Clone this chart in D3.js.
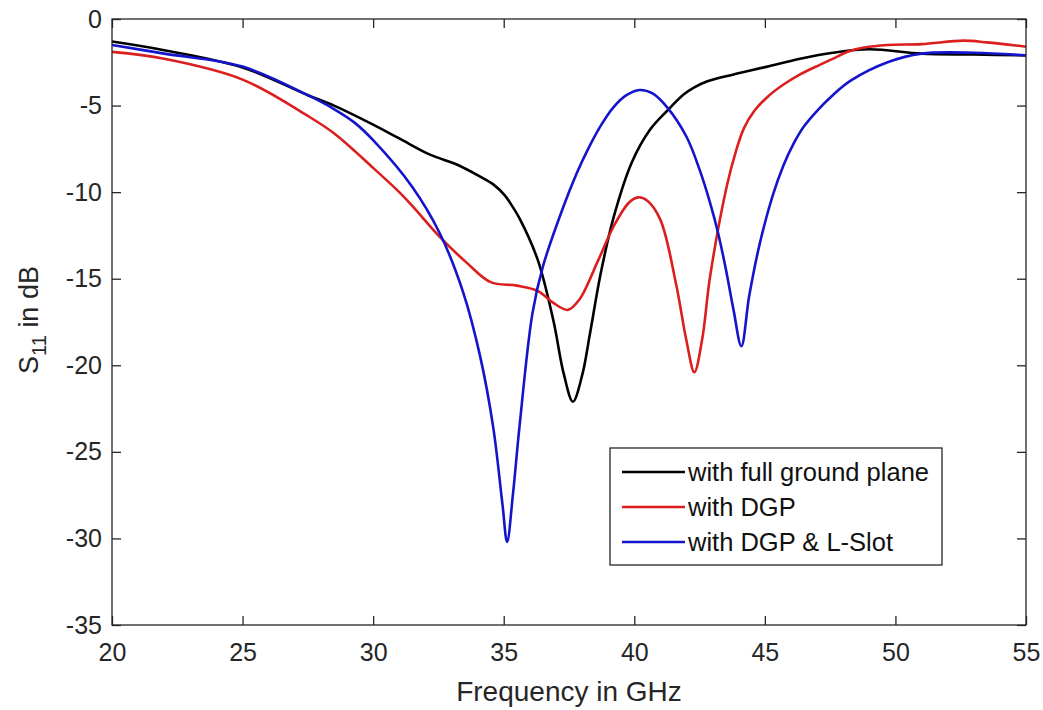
<!DOCTYPE html>
<html>
<head>
<meta charset="utf-8">
<script src="https://cdn.jsdelivr.net/npm/d3@7"></script>
<style>
  html, body { margin: 0; padding: 0; background: #fff; }
  svg { display: block; font-family: "Liberation Sans", Arial, Helvetica, sans-serif; }
</style>
</head>
<body>
<svg id="chart" width="1043" height="710"></svg>
<script>
// Reflection coefficient S11 (dB) versus frequency (GHz) for three antenna variants.
const fullGroundFreq = [20, 22, 25, 27.5, 28.5, 30, 31, 32.2, 33.2, 34.1, 34.6, 35.05, 35.3, 35.6, 36.3, 36.9, 37.3, 37.65, 38.0, 38.3, 38.7, 39.2, 39.9, 40.6, 41.26, 41.9, 42.3, 42.8, 43.8, 45.1, 46.35, 47.6, 49, 51, 53, 55];
const fullGroundS11  = [-1.3, -1.8, -2.8, -4.4, -5.0, -6.1, -6.9, -7.85, -8.4, -9.1, -9.55, -10.2, -10.75, -11.5, -13.9, -17.4, -20.5, -22.1, -20.6, -18.2, -14.8, -11.5, -8.3, -6.4, -5.3, -4.35, -3.95, -3.6, -3.2, -2.75, -2.3, -1.95, -1.75, -2.0, -2.05, -2.1];

const dgpFreq = [20, 22, 25, 27.5, 28.5, 30, 31, 31.5, 32.56, 33.6, 34.5, 35.5, 36.3, 36.9, 37.46, 37.9, 38.6, 39.2, 39.8, 40.15, 40.5, 41.0, 41.6, 42.0, 42.3, 42.6, 42.9, 43.55, 43.9, 44.2, 44.6, 45.1, 45.7, 46.35, 47.1, 47.6, 48.2, 48.8, 49.7, 51, 52.6, 53.5, 55];
const dgpS11  = [-1.9, -2.3, -3.5, -5.6, -6.6, -8.6, -10.0, -10.8, -12.6, -14.1, -15.2, -15.4, -15.7, -16.4, -16.8, -16.2, -14.0, -12.0, -10.6, -10.3, -10.5, -11.6, -15.3, -18.6, -20.4, -18.5, -14.9, -9.6, -7.6, -6.3, -5.3, -4.5, -3.8, -3.2, -2.65, -2.3, -1.88, -1.65, -1.5, -1.45, -1.25, -1.35, -1.6];

const lSlotFreq = [20, 22, 25, 27.5, 28.5, 29.3, 30, 31.5, 32.56, 33.45, 34.1, 34.6, 34.95, 35.13, 35.35, 35.6, 36.1, 36.5, 37.27, 37.8, 38.2, 38.7, 39.2, 39.7, 40.2, 40.7, 41.26, 42.0, 42.5, 42.9, 43.2, 43.5, 43.8, 44.1, 44.4, 44.8, 45.3, 45.7, 46.1, 46.5, 47.0, 47.6, 48.3, 49.7, 51, 53, 55];
const lSlotS11  = [-1.5, -2.0, -2.75, -4.4, -5.2, -6.0, -7.0, -9.7, -12.4, -15.8, -19.5, -23.6, -28.0, -30.2, -27.5, -23.6, -17.0, -14.3, -10.9, -8.9, -7.6, -6.2, -5.1, -4.4, -4.1, -4.3, -5.1, -6.8, -8.7, -10.6, -12.3, -14.4, -16.8, -18.9, -16.0, -13.0, -10.2, -8.5, -7.2, -6.2, -5.3, -4.4, -3.55, -2.5, -2.0, -1.95, -2.1];

const seriesNames  = ["with full ground plane", "with DGP", "with DGP & L-Slot"];
const seriesColors = ["#000000", "#dc1e1e", "#1414cc"];

const xTicks = [20, 25, 30, 35, 40, 45, 50, 55];
const yTicks = [0, -5, -10, -15, -20, -25, -30, -35];

const series = [
  { name: seriesNames[0], color: seriesColors[0], pts: fullGroundFreq.map((f, i) => [f, fullGroundS11[i]]) },
  { name: seriesNames[1], color: seriesColors[1], pts: dgpFreq.map((f, i) => [f, dgpS11[i]]) },
  { name: seriesNames[2], color: seriesColors[2], pts: lSlotFreq.map((f, i) => [f, lSlotS11[i]]) }
];

const svg = d3.select("#chart");
const plotLeft = 112, plotRight = 1026, plotTop = 19, plotBottom = 625;
const axisColor = "#262626";
const plainNumber = d => String(d);   // hyphen-minus in the tick labels

const x = d3.scaleLinear().domain([20, 55]).range([plotLeft, plotRight]);
const y = d3.scaleLinear().domain([-35, 0]).range([plotBottom, plotTop]);

// Curves
const line = d3.line()
  .x(d => x(d[0]))
  .y(d => y(d[1]))
  .curve(d3.curveCatmullRom.alpha(0.5));

svg.append("defs").append("clipPath").attr("id", "plot-area")
  .append("rect")
  .attr("x", plotLeft).attr("y", plotTop)
  .attr("width", plotRight - plotLeft).attr("height", plotBottom - plotTop);

const plot = svg.append("g").attr("clip-path", "url(#plot-area)");
series.forEach(s => {
  plot.append("path")
    .datum(s.pts)
    .attr("fill", "none")
    .attr("stroke", s.color)
    .attr("stroke-width", 2.6)
    .attr("stroke-linejoin", "round")
    .attr("d", line);
});

// Axes with inward ticks on all four sides
function styleAxis(g) {
  g.selectAll("path, line").attr("stroke", axisColor).attr("stroke-width", 1.3);
  g.selectAll("text").attr("fill", axisColor).attr("font-size", 25);
}

svg.append("g")
  .attr("transform", `translate(0,${plotBottom})`)
  .call(d3.axisBottom(x).tickValues(xTicks).tickFormat(plainNumber)
    .tickSizeInner(-9).tickSizeOuter(0).tickPadding(18))
  .call(styleAxis)
  .call(g => g.select(".domain").remove());

svg.append("g")
  .attr("transform", `translate(0,${plotTop})`)
  .call(d3.axisTop(x).tickValues(xTicks).tickFormat("")
    .tickSizeInner(-9).tickSizeOuter(0))
  .call(styleAxis)
  .call(g => g.select(".domain").remove());

svg.append("g")
  .attr("transform", `translate(${plotLeft},0)`)
  .call(d3.axisLeft(y).tickValues(yTicks).tickFormat(plainNumber)
    .tickSizeInner(-9).tickSizeOuter(0).tickPadding(10))
  .call(styleAxis)
  .call(g => g.select(".domain").remove());

svg.append("g")
  .attr("transform", `translate(${plotRight},0)`)
  .call(d3.axisRight(y).tickValues(yTicks).tickFormat("")
    .tickSizeInner(-9).tickSizeOuter(0))
  .call(styleAxis)
  .call(g => g.select(".domain").remove());

// Axes box
svg.append("rect")
  .attr("x", plotLeft).attr("y", plotTop)
  .attr("width", plotRight - plotLeft).attr("height", plotBottom - plotTop)
  .attr("fill", "none").attr("stroke", axisColor).attr("stroke-width", 1.3);

// Axis titles
svg.append("text")
  .attr("x", (plotLeft + plotRight) / 2).attr("y", 701)
  .attr("text-anchor", "middle")
  .attr("font-size", 28).attr("fill", axisColor)
  .text("Frequency in GHz");

const yTitle = svg.append("text")
  .attr("transform", "translate(38,320) rotate(-90)")
  .attr("text-anchor", "middle")
  .attr("font-size", 27).attr("fill", axisColor);
yTitle.append("tspan").text("S");
yTitle.append("tspan").attr("dy", 8).attr("font-size", 20).text("11");
yTitle.append("tspan").attr("dy", -8).text(" in dB");

// Legend
const legend = svg.append("g");
legend.append("rect")
  .attr("x", 610).attr("y", 448).attr("width", 332).attr("height", 117)
  .attr("fill", "#fff").attr("stroke", axisColor).attr("stroke-width", 1.3);
series.forEach((s, i) => {
  const ly = 472 + i * 35;
  legend.append("line")
    .attr("x1", 622).attr("x2", 685).attr("y1", ly).attr("y2", ly)
    .attr("stroke", s.color).attr("stroke-width", 2.6);
  legend.append("text")
    .attr("x", 688).attr("y", ly).attr("dy", "0.35em")
    .attr("font-size", 25.5).attr("fill", "#111")
    .text(s.name);
});
</script>
</body>
</html>
